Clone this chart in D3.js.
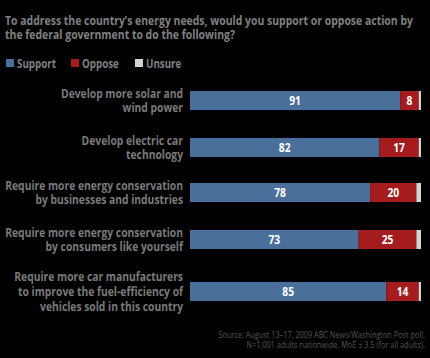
<!DOCTYPE html>
<html><head><meta charset="utf-8">
<script src="https://cdn.jsdelivr.net/npm/d3@7"></script>
<style>
html,body{margin:0;padding:0;background:#000;}
svg{display:block;}
text{font-family:"Open Sans","DejaVu Sans",sans-serif;}
</style></head><body>
<svg id="c" width="430" height="358"></svg>
<script>
const categories = [
  ["Develop more solar and", "wind power"],
  ["Develop electric car", "technology"],
  ["Require more energy conservation", "by businesses and industries"],
  ["Require more energy conservation", "by consumers like yourself"],
  ["Require more car manufacturers", "to improve the fuel-efficiency of", "vehicles sold in this country"]
];
const support = [91, 82, 78, 73, 85];
const oppose = [8, 17, 20, 25, 14];
const unsure = [1, 1, 2, 2, 1];
const seriesNames = ["Support", "Oppose", "Unsure"];
const titleLines = ["To address the country\u2019s energy needs, would you support or oppose action by", "the federal government to do the following?"];
const sourceLines = ["Source: August 13\u201317, 2009 ABC News/Washington Post poll.", "N=1,001 adults nationwide. MoE \u00b1 3.5 (for all adults)."];

const colors = ["#4a6f9b", "#a51c1f", "#d3d3d3"];
const svg = d3.select("#c");

function place(sel, fx, fy, f) {
  sel.attr("x", 0).attr("y", 0)
     .attr("transform", (d,i)=>`translate(${fx(d,i)},${fy(d,i)}) scale(${f},1)`);
}

// title as one text block with tspans
const tt = svg.append("text").attr("fill", "#808080").attr("font-size", 12).attr("font-weight", "bold");
tt.selectAll("tspan").data(titleLines).join("tspan")
  .attr("x", 0).attr("dy", (d,i)=> i ? 14 : 0).text(d=>d);
const tf = 408 / tt.select("tspan").node().getComputedTextLength();
tt.attr("transform", `translate(5,25) scale(${tf},1)`);

// legend
const lx = [6, 71, 135];
const lg = svg.append("g").selectAll("g").data(seriesNames).join("g")
  .attr("transform", (d,i)=>`translate(${lx[i]},59)`);
lg.append("rect").attr("width", 8).attr("height", 8).attr("fill", (d,i)=>colors[i]);
const lt = lg.append("text").attr("fill", "#808080")
  .attr("font-size", 12).attr("font-weight","bold").text(d=>d);
const lf = 39 / lt.nodes()[0].getComputedTextLength();
place(lt, ()=>11, ()=>8.5, lf);

const x = d3.scaleLinear().domain([0, 100]).range([190, 421]);
const centers = [100.5, 147.5, 192.5, 239.5, 291.5];
const y = d3.scaleOrdinal().domain(d3.range(5)).range(centers);
const bh = 19;

const rows = categories.map((c,i)=>({c, vals:[support[i], oppose[i], unsure[i]], i}));
const rg = svg.append("g").selectAll("g").data(rows).join("g");

const probe = svg.append("text").attr("font-size", 12).attr("font-weight","bold").text(categories[2][0]);
const labF = 178 / probe.node().getComputedTextLength();
probe.remove();
const valF = 0.82;

rg.each(function(r){
  const g = d3.select(this);
  let acc = 0;
  r.vals.forEach((v,k)=>{
    const x0 = x(acc), x1 = x(acc+v);
    g.append("rect").attr("x", x0).attr("y", y(r.i)-bh/2).attr("width", x1-x0).attr("height", bh).attr("fill", colors[k]);
    if (k < 2) {
      const t = g.append("text").attr("text-anchor","middle")
        .attr("fill","#fff").attr("font-size", 12.5).attr("font-weight","bold").text(v);
      place(t, ()=>(x0+x1)/2, ()=>y(r.i)+4.5, valF);
    }
    acc += v;
  });
  const n = r.c.length;
  const lab = g.append("text").attr("text-anchor","end").attr("fill","#7a7a7a")
    .attr("font-size", 12).attr("font-weight","bold");
  lab.selectAll("tspan").data(r.c).join("tspan")
    .attr("x", 0).attr("dy", (d,j)=> j ? 15 : 0).text(d=>d);
  lab.attr("transform", `translate(183,${y(r.i) - (n-1)/2*15 + 4.5}) scale(${labF},1)`);
});

const st = svg.append("text").attr("text-anchor","end").attr("fill","#555").attr("font-size", 9);
st.selectAll("tspan").data(sourceLines).join("tspan")
  .attr("x", 0).attr("dy", (d,i)=> i ? 10.5 : 0).text(d=>d);
const sf = 207 / st.select("tspan").node().getComputedTextLength();
st.attr("transform", `translate(425,338) scale(${sf},1)`);
</script>
</body></html>
